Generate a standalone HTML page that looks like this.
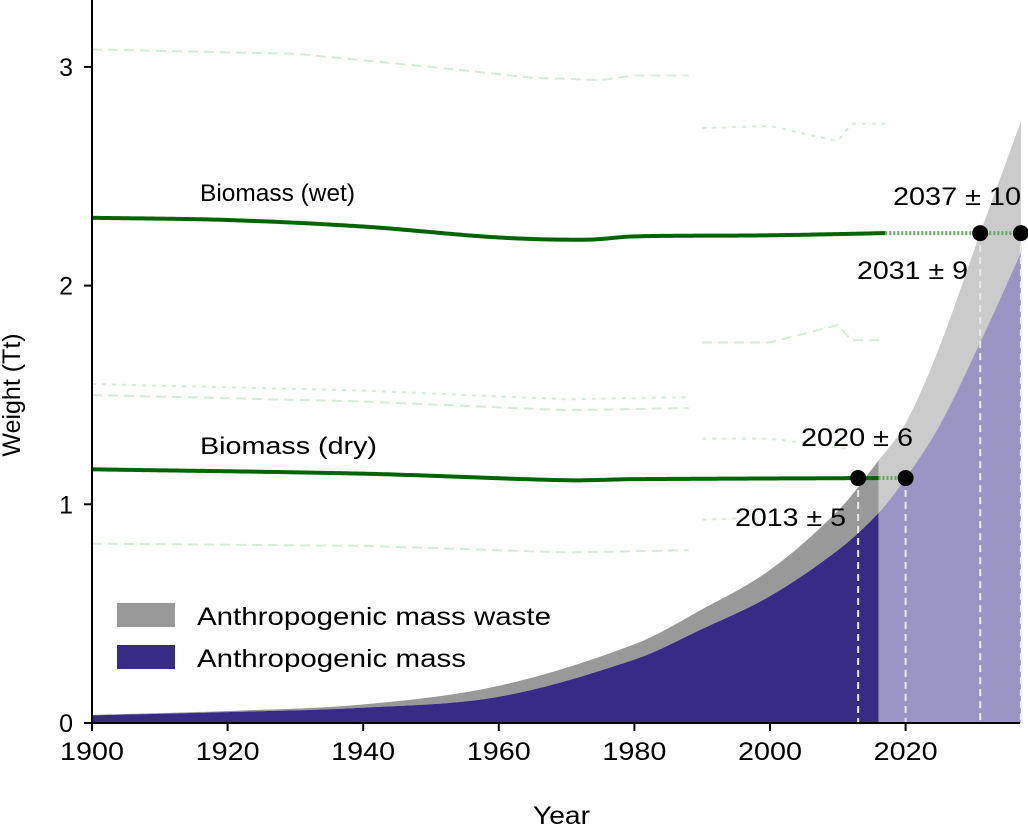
<!DOCTYPE html>
<html><head><meta charset="utf-8"><style>
body{margin:0;background:#fff}
svg{display:block;font-family:"Liberation Sans",Arial,sans-serif}
</style></head><body>
<svg id="chart" width="1028" height="826" viewBox="0 0 1028 826"></svg>
<script>
const years=[1900,1920,1940,1960,1980,1990,2000,2010,2016,2020,2025,2031,2037];
const massVals=[0.035,0.05,0.07,0.12,0.29,0.43,0.58,0.79,0.96,1.12,1.36,1.74,2.15];
const totalVals=[0.037,0.055,0.085,0.17,0.36,0.52,0.70,0.97,1.20,1.37,1.72,2.24,2.75];
const wetYears=[1900,1920,1940,1960,1973,1980,2000,2017];
const wetVals=[2.31,2.30,2.27,2.22,2.21,2.225,2.23,2.24];
const dryYears=[1900,1940,1970,1980,2016];
const dryVals=[1.16,1.14,1.11,1.115,1.12];
const xTicks=[1900,1920,1940,1960,1980,2000,2020];
const yTicks=[0,1,2,3];
const crossings=[{y:2031,v:2.24,label:"2031 ± 9"},{y:2037,v:2.24,label:"2037 ± 10"},{y:2013,v:1.12,label:"2013 ± 5"},{y:2020,v:1.12,label:"2020 ± 6"}];
const faint=[
 {x:[1900,1930,1950,1965,1975,1980,1988],v:[3.08,3.06,3.0,2.95,2.94,2.96,2.96]},
 {x:[1990,2000,2010,2012,2017],v:[2.72,2.73,2.66,2.74,2.74]},
 {x:[1990,2000,2010,2012,2017],v:[1.74,1.74,1.82,1.75,1.75]},
 {x:[1900,1940,1970,1988],v:[1.55,1.52,1.48,1.49]},
 {x:[1900,1940,1970,1988],v:[1.50,1.47,1.43,1.44]},
 {x:[1990,2000,2008,2012],v:[1.30,1.30,1.27,1.25]},
 {x:[1900,1940,1970,1988],v:[0.82,0.81,0.78,0.79]},
 {x:[1990,2000],v:[0.93,0.94]}
];
const X=y=>92+(y-1900)*6.78;
const Y=v=>723-v*218.7;
const svg=document.getElementById('chart');
const NS='http://www.w3.org/2000/svg';
function mk(t,a,parent){const e=document.createElementNS(NS,t);for(const k in a)e.setAttribute(k,a[k]);(parent||svg).appendChild(e);return e;}
function smooth(xs,vs,x){let i=0;while(i<xs.length-2&&x>xs[i+1])i++;
 const x0=xs[i],x1=xs[i+1],t=(x-x0)/(x1-x0),h=x1-x0;
 const m=k=>{if(k===0)return (vs[1]-vs[0])/(xs[1]-xs[0]);if(k===xs.length-1)return (vs[k]-vs[k-1])/(xs[k]-xs[k-1]);return (vs[k+1]-vs[k-1])/(xs[k+1]-xs[k-1]);};
 const t2=t*t,t3=t2*t;
 return (2*t3-3*t2+1)*vs[i]+(t3-2*t2+t)*h*m(i)+(-2*t3+3*t2)*vs[i+1]+(t3-t2)*h*m(i+1);}
function curvePts(xs,vs,x0,x1){const p=[];for(let x=x0;x<=x1+1e-9;x+=0.5)p.push(X(x)+','+Y(smooth(xs,vs,x)));return p.join(' ');}
function area(x0,x1,top,bot){let d='';const pts=[];for(let x=x0;x<=x1+1e-9;x+=0.5)pts.push(x);
 pts.forEach((x,i)=>{d+=(i?'L':'M')+X(x)+','+Y(top(x));});
 for(let i=pts.length-1;i>=0;i--)d+='L'+X(pts[i])+','+Y(bot(pts[i]));return d+'Z';}
const tot=x=>smooth(years,totalVals,x),ms=x=>smooth(years,massVals,x),zero=()=>0;
let e;
e=mk('path',{d:area(1900,2016,tot,ms),fill:'#999'});
e=mk('path',{d:area(2016,2037,tot,ms),fill:'#cbcbcb'});
e=mk('path',{d:area(1900,2016,ms,zero),fill:'#372b85'});
e=mk('path',{d:area(2016,2037,ms,zero),fill:'#9b95c4'});
faint.forEach((f,i)=>{const p=mk('polyline',{points:f.x.map((x,j)=>X(x)+','+Y(f.v[j])).join(' '),fill:'none',stroke:'#d6ecd9','stroke-width':2,'stroke-dasharray':i%2?'4,6':'10,6'});
 });
crossings.forEach(c=>{const l=mk('line',{x1:X(c.y),x2:X(c.y),y1:Y(c.v),y2:723,stroke:'#e8e8ee','stroke-width':2,'stroke-dasharray':'7,5'});
 });
function line(xs,vs,name){const p=mk('polyline',{points:curvePts(xs,vs,xs[0],xs[xs.length-1]),fill:'none',stroke:'#006400','stroke-width':4});
 return p;}
line(wetYears,wetVals,'biomass-wet-line');line(dryYears,dryVals,'biomass-dry-line');
e=mk('line',{x1:X(2017),x2:X(2037),y1:Y(wetVals[wetVals.length-1]),y2:Y(wetVals[wetVals.length-1]),stroke:'#6aa86a','stroke-width':4,'stroke-dasharray':'2,2'});

e=mk('line',{x1:X(2016),x2:X(2020),y1:Y(dryVals[dryVals.length-1]),y2:Y(dryVals[dryVals.length-1]),stroke:'#6aa86a','stroke-width':4,'stroke-dasharray':'2,2'});

const labPos={"2031 ± 9":[857,279,111],"2037 ± 10":[893,205,128],"2013 ± 5":[735,526,111],"2020 ± 6":[801,446,112]};
crossings.forEach(c=>{const d=mk('circle',{cx:X(c.y),cy:Y(c.v),r:8,fill:'#000'});
 
 const p=labPos[c.label];const t=mk('text',{x:p[0],y:p[1],'font-size':25,textLength:p[2],lengthAdjust:'spacingAndGlyphs',fill:'#000'});t.textContent=c.label;
 });
e=mk('text',{x:200,y:201,'font-size':24,textLength:155,lengthAdjust:'spacingAndGlyphs'});e.textContent='Biomass (wet)';
e=mk('text',{x:200,y:454,'font-size':24,textLength:177,lengthAdjust:'spacingAndGlyphs'});e.textContent='Biomass (dry)';
e=mk('line',{x1:92,x2:92,y1:0,y2:723,stroke:'#000','stroke-width':2});
e=mk('line',{x1:91,x2:1020,y1:723,y2:723,stroke:'#000','stroke-width':2});
xTicks.forEach(t=>{const l=mk('line',{x1:X(t),x2:X(t),y1:723,y2:731,stroke:'#000','stroke-width':2});
 const s=mk('text',{x:X(t)-32,y:760,'font-size':25,textLength:64,lengthAdjust:'spacingAndGlyphs'});s.textContent=t;});
yTicks.forEach(t=>{const l=mk('line',{x1:84,x2:92,y1:Y(t),y2:Y(t),stroke:'#000','stroke-width':2});
 const s=mk('text',{x:73,y:Y(t)+9,'font-size':25,'text-anchor':'end'});s.textContent=t;});
e=mk('text',{x:533,y:824,'font-size':25,textLength:57,lengthAdjust:'spacingAndGlyphs'});e.textContent='Year';
e=mk('text',{x:20,y:395,'font-size':25,'text-anchor':'middle',transform:'rotate(-90 20 395)'});e.textContent='Weight (Tt)';
e=mk('rect',{x:117,y:603,width:58,height:24,fill:'#999'});
e=mk('text',{x:197,y:625,'font-size':25,textLength:354,lengthAdjust:'spacingAndGlyphs'});e.textContent='Anthropogenic mass waste';
e=mk('rect',{x:117,y:645,width:58,height:24,fill:'#372b85'});
e=mk('text',{x:197,y:667,'font-size':25,textLength:269,lengthAdjust:'spacingAndGlyphs'});e.textContent='Anthropogenic mass';
</script>
</body></html>
